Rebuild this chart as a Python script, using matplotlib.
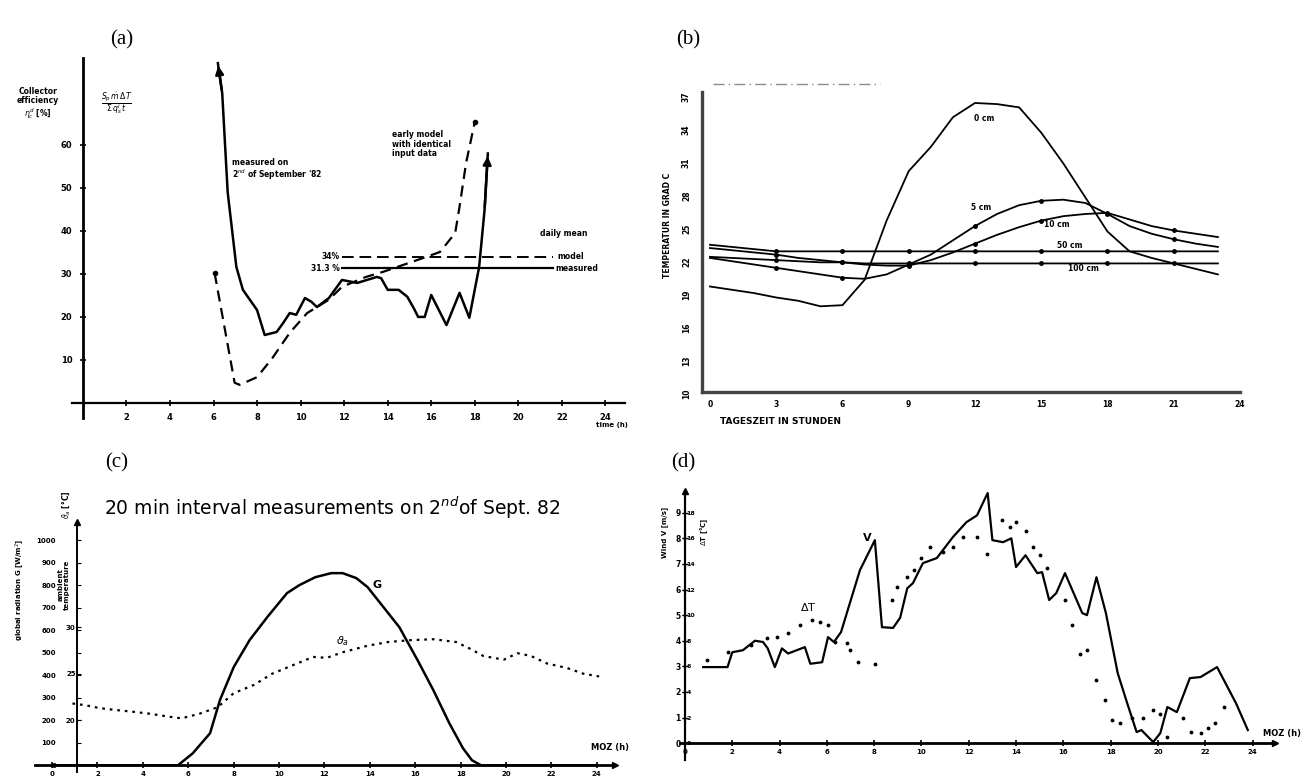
import matplotlib
matplotlib.use('Agg')
import matplotlib.pyplot as plt
from matplotlib.lines import Line2D

W, H = 1304, 780

# ---------------- (a) collector efficiency ----------------
meas_hours = [6.2, 6.4, 6.65, 7.05, 7.35, 8.0, 8.35, 8.9, 9.2, 9.5, 9.8, 10.2, 10.5, 10.75,
              11.3, 11.9, 12.6, 13.5, 13.7, 14.0, 14.5, 14.9, 15.2, 15.4, 15.7, 16.0, 16.7,
              17.3, 17.75, 18.2, 18.45, 18.6]
meas_eff = [79, 72, 49, 31.6, 26.3, 21.6, 15.8, 16.5, 18.6, 20.9, 20.5, 24.4, 23.5, 22.3,
            24.4, 28.6, 27.9, 29.3, 29.0, 26.3, 26.3, 24.7, 22.0, 20.0, 20.0, 25.1, 18.1,
            25.6, 19.8, 31.6, 44.9, 58]
model_hours = [6.05, 6.97, 7.2, 8.0, 8.7, 9.5, 10.3, 11.3, 11.9, 13.0, 13.8, 15.0, 15.8,
               16.4, 17.1, 17.3, 17.6, 18.0]
model_eff = [30.2, 4.7, 4.2, 6.0, 10.4, 16.3, 20.9, 24.0, 27.0, 29.3, 30.5, 32.6, 34.0,
             35.1, 39.5, 45.6, 55.8, 65.3]
mean_span = [11.9, 21.6]
mean_model = 34.0
mean_meas = 31.3

# ---------------- (b) soil temperatures ----------------
soil_hours = list(range(24))
temp_0cm = [19.6, 19.3, 19.0, 18.6, 18.3, 17.8, 17.9, 20.2, 25.6, 30.1, 32.3, 35.0, 36.3,
            36.2, 35.9, 33.6, 30.8, 27.7, 24.6, 22.8, 22.2, 21.7, 21.2, 20.7]
temp_5cm = [22.2, 21.9, 21.6, 21.3, 21.0, 20.7, 20.4, 20.3, 20.7, 21.6, 22.5, 23.8, 25.1,
            26.2, 27.0, 27.4, 27.5, 27.2, 26.2, 25.1, 24.4, 23.9, 23.5, 23.2]
temp_10cm = [23.1, 22.9, 22.7, 22.5, 22.2, 22.0, 21.8, 21.6, 21.5, 21.5, 22.0, 22.7, 23.5,
             24.3, 25.0, 25.6, 26.0, 26.2, 26.3, 25.7, 25.1, 24.7, 24.4, 24.1]
temp_50cm = [23.4, 23.2, 23.0, 22.8, 22.8, 22.8, 22.8, 22.8, 22.8, 22.8, 22.8, 22.8, 22.8,
             22.8, 22.8, 22.8, 22.8, 22.8, 22.8, 22.8, 22.8, 22.8, 22.8, 22.8]
temp_100cm = [22.3, 22.2, 22.1, 22.0, 21.9, 21.8, 21.8, 21.7, 21.7, 21.7, 21.7, 21.7, 21.7,
              21.7, 21.7, 21.7, 21.7, 21.7, 21.7, 21.7, 21.7, 21.7, 21.7, 21.7]

# ---------------- (c) radiation and ambient temperature ----------------
rad_hours = [0, 5.55, 6.2, 6.96, 7.4, 8.0, 8.7, 9.5, 10.35, 10.9, 11.6, 12.3, 12.8, 13.4,
             13.9, 14.6, 15.3, 16.1, 16.8, 17.5, 18.1, 18.5, 18.9, 24]
radiation = [0, 0, 53, 142, 290, 435, 555, 660, 764, 800, 835, 853, 853, 831, 791, 702,
             613, 467, 333, 187, 76, 22, 0, 0]
amb_hours = [0.9, 1.5, 2.1, 2.8, 3.6, 4.3, 5.1, 5.7, 6.5, 7.3, 8.0, 8.9, 9.7, 10.6, 11.5,
             12.1, 12.8, 13.9, 14.8, 15.8, 16.8, 17.8, 18.4, 19.0, 19.9, 20.5, 21.1, 21.8,
             22.7, 23.4, 24.1]
amb_temp = [21.8, 21.6, 21.3, 21.1, 20.9, 20.7, 20.4, 20.2, 20.7, 21.4, 22.9, 23.8, 25.0,
            25.9, 26.8, 26.7, 27.3, 28.0, 28.4, 28.6, 28.7, 28.4, 27.7, 26.9, 26.5, 27.2,
            26.9, 26.1, 25.6, 25.0, 24.7]

# ---------------- (d) wind speed and temperature difference ----------------
wind_hours = [0.77, 1.8, 2.0, 2.45, 2.96, 3.3, 3.5, 3.8, 4.1, 4.36, 5.07, 5.3, 5.8, 6.05,
              6.3, 6.6, 7.4, 8.03, 8.33, 8.8, 9.1, 9.4, 9.64, 10.06, 10.65, 11.33, 11.9,
              12.35, 12.8, 13.0, 13.45, 13.8, 14.0, 14.4, 14.9, 15.1, 15.4, 15.7, 16.07,
              16.8, 17.0, 17.4, 17.8, 18.3, 18.7, 19.1, 19.3, 19.8, 20.1, 20.4, 20.8, 21.35,
              21.8, 22.5, 23.3, 23.8]
wind = [2.97, 2.97, 3.55, 3.63, 4.0, 3.95, 3.7, 2.97, 3.7, 3.5, 3.75, 3.1, 3.16, 4.14,
        3.95, 4.34, 6.76, 7.93, 4.53, 4.5, 4.9, 6.05, 6.25, 7.03, 7.23, 8.05, 8.63, 8.9,
        9.77, 7.93, 7.85, 8.0, 6.88, 7.34, 6.64, 6.68, 5.59, 5.86, 6.64, 5.08, 5.0, 6.48,
        5.08, 2.73, 1.56, 0.43, 0.51, 0.04, 0.39, 1.41, 1.21, 2.54, 2.58, 2.97, 1.56, 0.51]
dt_hours = [0.92, 1.8, 2.8, 3.45, 3.9, 4.36, 4.86, 5.37, 5.7, 6.05, 6.34, 6.85, 6.98, 7.3,
            8.03, 8.75, 8.96, 9.4, 9.7, 10.0, 10.36, 10.9, 11.33, 11.75, 12.35, 12.77,
            13.4, 13.74, 14.0, 14.4, 14.7, 15.0, 15.3, 16.07, 16.36, 16.7, 17.0, 17.4,
            17.76, 18.05, 18.4, 18.9, 19.36, 19.8, 20.1, 20.4, 21.06, 21.4, 21.8, 22.1,
            22.4, 22.8]
delta_t = [6.5, 7.1, 7.7, 8.2, 8.3, 8.6, 9.2, 9.6, 9.5, 9.2, 7.9, 7.8, 7.3, 6.3, 6.2,
           11.2, 12.2, 13.0, 13.5, 14.5, 15.3, 14.9, 15.3, 16.1, 16.1, 14.8, 17.4, 16.9,
           17.3, 16.6, 15.3, 14.7, 13.7, 11.2, 9.2, 7.0, 7.3, 4.9, 3.4, 1.8, 1.6, 2.0, 2.0,
           2.6, 2.3, 0.5, 2.0, 0.9, 0.8, 1.2, 1.6, 2.8]


def box(l, t, r, b):
    # pixel box of the reference -> figure fraction
    return [l / W, 1 - b / H, (r - l) / W, (b - t) / H]


def ftext(px, py, s, **kw):
    fig.text(px / W, 1 - py / H, s, **kw)


small = dict(fontsize=5.5, fontweight='bold')

fig = plt.figure(figsize=(W / 100, H / 100), dpi=100)

# panel letters
for px, py, s in [(122, 40, '(a)'), (688, 40, '(b)'), (117, 463, '(c)'), (683, 463, '(d)')]:
    ftext(px, py, s, fontsize=15, family='Liberation Serif', ha='center', va='center')

# ================= (a) =================
ax = fig.add_axes(box(72, 58, 625, 418))
ax.set_xlim(-0.5, 24.9)
ax.set_ylim(-3.5, 80.2)
for s in ['top', 'right']:
    ax.spines[s].set_visible(False)
ax.spines['left'].set_position(('data', 0))
ax.spines['bottom'].set_position(('data', 0))
ax.spines['left'].set_linewidth(2)
ax.spines['bottom'].set_linewidth(1.6)
ax.set_xticks(range(2, 25, 2))
ax.set_yticks(range(10, 61, 10))
ax.tick_params(direction='inout', length=5, width=1.2, labelsize=6, pad=5)
for lab in ax.get_xticklabels() + ax.get_yticklabels():
    lab.set_fontweight('bold')

ax.plot(meas_hours, meas_eff, color='k', lw=1.8)
ax.plot(model_hours, model_eff, color='k', lw=1.6, ls=(0, (5, 3)))
ax.plot([model_hours[0], model_hours[-1]], [model_eff[0], model_eff[-1]], 'ko', ms=3)
ax.annotate('', xy=(meas_hours[0], meas_eff[0]), xytext=(meas_hours[1], meas_eff[1]),
            arrowprops=dict(arrowstyle='-|>', color='k', lw=1.8, mutation_scale=12))
ax.annotate('', xy=(meas_hours[-1], meas_eff[-1]), xytext=(meas_hours[-2], meas_eff[-2]),
            arrowprops=dict(arrowstyle='-|>', color='k', lw=1.8, mutation_scale=12))
ax.plot(mean_span, [mean_model, mean_model], color='k', lw=1.4, ls=(0, (6, 3)))
ax.plot(mean_span, [mean_meas, mean_meas], color='k', lw=1.6)
ax.text(mean_span[0] - 0.1, mean_model, '34%', ha='right', va='center', **small)
ax.text(mean_span[0] - 0.1, mean_meas, '31.3 %', ha='right', va='center', **small)
ax.text(mean_span[1] + 0.2, mean_model, 'model', ha='left', va='center', **small)
ax.text(mean_span[1] + 0.1, mean_meas, 'measured', ha='left', va='center', **small)
ax.text(21.0, 39.5, 'daily mean', ha='left', va='center', **small)
ax.text(6.85, 57, 'measured on\n2$^{nd}$ of September \'82', ha='left', va='top',
        fontsize=5.5, fontweight='bold', linespacing=1.1)
ax.text(14.2, 63.5, 'early model\nwith identical\ninput data', ha='left', va='top',
        fontsize=5.5, fontweight='bold', linespacing=1.1)
ax.text(24.3, -4.5, 'time (h)', ha='center', va='top', fontsize=5, fontweight='bold')
ftext(38, 104, 'Collector\nefficiency\n$\\eta_c^d$ [%]', ha='center', va='center',
      fontsize=5.5, fontweight='bold', linespacing=1.1)
ftext(117, 104, r'$\frac{S_p\,\dot{m}\,\Delta T}{\Sigma\,q_s^i\,t}$', ha='center',
      va='center', fontsize=8)

# ================= (b) =================
bx = fig.add_axes(box(702, 92, 1240, 392))
bx.set_xlim(-0.36, 23.9)
bx.set_ylim(10, 37.3)
for s in ['top', 'right']:
    bx.spines[s].set_visible(False)
for s in ['left', 'bottom']:
    bx.spines[s].set_linewidth(2.4)
    bx.spines[s].set_color('#444444')
bx.set_xticks(range(0, 25, 3))
bx.set_yticks(range(10, 38, 3))
bx.tick_params(length=0, labelsize=5.5, pad=6)
bx.tick_params(axis='y', labelrotation=90, pad=8)
for lab in bx.get_xticklabels() + bx.get_yticklabels():
    lab.set_fontweight('bold')
bx.plot(soil_hours, temp_0cm, color='k', lw=1.3)
for series in [temp_5cm, temp_10cm, temp_50cm, temp_100cm]:
    bx.plot(soil_hours, series, color='k', lw=1.3, marker='o', ms=2.5,
            markevery=slice(3, None, 3))
bx.text(12.4, 34.9, '0 cm', ha='center', va='center', **small)
bx.text(12.3, 26.8, '5 cm', ha='center', va='center', **small)
bx.text(15.7, 25.2, '10 cm', ha='center', va='center', **small)
bx.text(16.3, 23.3, '50 cm', ha='center', va='center', **small)
bx.text(16.9, 21.2, '100 cm', ha='center', va='center', **small)
ftext(668, 225, 'TEMPERATUR IN GRAD C', rotation=90, ha='center', va='center',
      fontsize=5.5, fontweight='bold')
ftext(780, 422, 'TAGESZEIT IN STUNDEN', ha='center', va='center', fontsize=6.5,
      fontweight='bold')
fig.add_artist(Line2D([713 / W, 880 / W], [1 - 84 / H, 1 - 84 / H], color='0.55',
                      lw=1, ls=(0, (8, 3, 1, 3))))

# ================= (c) =================
cx = fig.add_axes(box(35, 522, 615, 772))
cx.set_xlim(-0.75, 24.8)
cx.set_ylim(-30, 1080)
for s in ['top', 'right']:
    cx.spines[s].set_visible(False)
cx.spines['left'].set_position(('data', 1.1))
cx.spines['bottom'].set_position(('data', 0))
cx.spines['left'].set_linewidth(1.4)
cx.spines['bottom'].set_linewidth(2)
cx.set_xticks(range(0, 25, 2))
cx.set_yticks(range(0, 1001, 100))
cx.tick_params(axis='x', direction='inout', length=5, width=1.2, labelsize=5, pad=2)
cx.tick_params(axis='y', direction='in', length=3, labelsize=5, pad=15)
for lab in cx.get_xticklabels() + cx.get_yticklabels():
    lab.set_fontweight('bold')
cx.plot(1.1, 1, '^k', ms=5, transform=cx.get_xaxis_transform(), clip_on=False)
cx.plot(1, 0, '>k', ms=5, transform=cx.get_yaxis_transform(), clip_on=False)
cx.plot(rad_hours, radiation, color='k', lw=1.8)
cx.text(14.3, 800, 'G', fontsize=8, fontweight='bold', ha='center', va='center')
cx.text(12.8, 550, r'$\vartheta_a$', fontsize=8, ha='center', va='center')
cx.text(25.4, 60, 'MOZ (h)', ha='right', va='bottom', fontsize=6, fontweight='bold')

cx2 = cx.twinx()
cx2.set_ylim(14.44, 41.29)
for s in cx2.spines.values():
    s.set_visible(False)
cx2.spines['left'].set_position(('data', 1.1))
cx2.yaxis.tick_left()
cx2.set_yticks([20, 25, 30])
cx2.tick_params(axis='y', direction='in', length=3, labelsize=5, pad=1)
for lab in cx2.get_yticklabels():
    lab.set_fontweight('bold')
cx2.plot(amb_hours, amb_temp, color='k', lw=1.6, ls=(0, (1.2, 2.2)))

ftext(332, 508, '20 min interval measurements on 2$^{nd}$of Sept. 82', ha='center',
      va='center', fontsize=13.5)
ftext(20, 590, 'global radiation G [W/m$^2$]', rotation=90, ha='center', va='center',
      fontsize=5, fontweight='bold')
ftext(64, 585, 'ambient\ntemperature', rotation=90, ha='center', va='center',
      fontsize=5, fontweight='bold', linespacing=1.0)
ftext(66, 505, r'$\vartheta_a$ [°C]', rotation=90, ha='center', va='center',
      fontsize=5.5, fontweight='bold')

# ================= (d) =================
dx = fig.add_axes(box(680, 491, 1275, 760))
dx.set_xlim(-0.21, 24.95)
dx.set_ylim(-0.66, 9.85)
for s in ['top', 'right']:
    dx.spines[s].set_visible(False)
dx.spines['left'].set_position(('data', 0))
dx.spines['bottom'].set_position(('data', 0))
dx.spines['left'].set_linewidth(1.6)
dx.spines['bottom'].set_linewidth(2)
dx.set_xticks(range(0, 25, 2))
dx.set_yticks(range(0, 10))
dx.tick_params(axis='x', direction='inout', length=5, width=1.2, labelsize=5, pad=2)
dx.tick_params(axis='y', direction='inout', length=4, width=1, labelsize=5.5, pad=1)
for lab in dx.get_xticklabels() + dx.get_yticklabels():
    lab.set_fontweight('bold')
dx.plot(0, 1, '^k', ms=5, transform=dx.get_xaxis_transform(), clip_on=False)
dx.plot(1, 0, '>k', ms=5, transform=dx.get_yaxis_transform(), clip_on=False)
dx.plot(wind_hours, wind, color='k', lw=1.6)
dx.text(5.2, 5.3, r'$\Delta$T', fontsize=8, ha='center', va='center')
dx.text(7.7, 8.0, 'V', fontsize=8, fontweight='bold', ha='center', va='center')
dx.text(24.45, 0.2, 'MOZ (h)', ha='left', va='bottom', fontsize=6, fontweight='bold')

dx2 = dx.twinx()
dx2.set_ylim(-1.32, 19.7)
for s in dx2.spines.values():
    s.set_visible(False)
dx2.spines['right'].set_position(('data', 0))
dx2.set_yticks(range(0, 19, 2))
dx2.tick_params(axis='y', direction='in', length=2, labelsize=4.5, pad=1)
for lab in dx2.get_yticklabels():
    lab.set_fontweight('bold')
dx2.plot(dt_hours, delta_t, 'k.', ms=3.5, ls='none')

ftext(665, 532, 'Wind V [m/s]', rotation=90, ha='center', va='center', fontsize=5,
      fontweight='bold')
ftext(704, 532, r'$\Delta$T [°C]', rotation=90, ha='center', va='center', fontsize=5,
      fontweight='bold')

fig.savefig('out.png', dpi=100)
